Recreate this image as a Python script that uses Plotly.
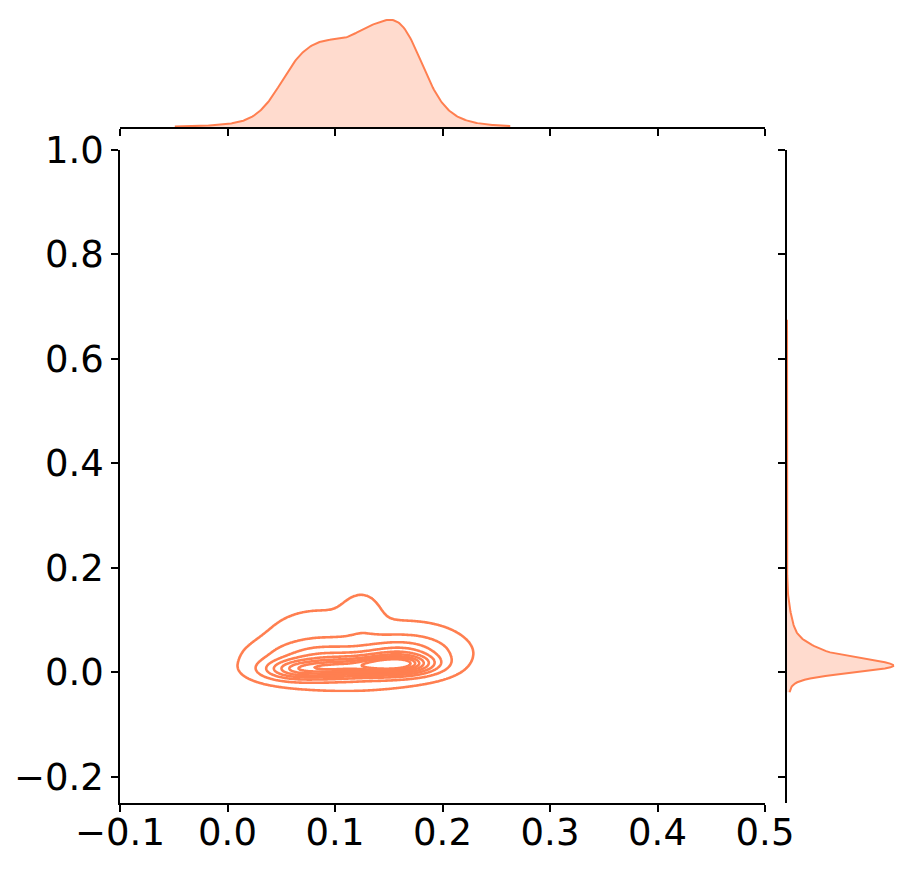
import numpy as np
import plotly.graph_objects as go

# ---- data: mixture components describing the bivariate density ----
comp_x  = [0.065, 0.100, 0.138, 0.165, 0.090, 0.160, 0.085, 0.172, 0.125, 0.115, 0.120]
comp_y  = [0.006, 0.009, 0.013, 0.016, 0.030, 0.036, 0.070, 0.055, 0.108, 0.015, 0.300]
comp_sx = [0.019, 0.020, 0.019, 0.018, 0.030, 0.025, 0.035, 0.032, 0.012, 0.060, 0.080]
comp_sy = [0.012, 0.012, 0.012, 0.012, 0.018, 0.018, 0.040, 0.030, 0.030, 0.035, 0.200]
comp_w  = [0.10, 0.12, 0.13, 0.13, 0.10, 0.10, 0.06, 0.048, 0.016, 0.12, 0.015]

x_support = [-0.049, 0.263]
y_support = [-0.038, 0.675]
x_ticks = [-0.1, 0.0, 0.1, 0.2, 0.3, 0.4, 0.5]
y_ticks = [-0.2, 0.0, 0.2, 0.4, 0.6, 0.8, 1.0]
x_labels = ["\u22120.1", "0.0", "0.1", "0.2", "0.3", "0.4", "0.5"]
y_labels = ["\u22120.2", "0.0", "0.2", "0.4", "0.6", "0.8", "1.0"]
levels = np.linspace(0.05, 1, 10)

LINE = "rgb(255,127,80)"
FILL = "rgba(255,127,80,0.28)"
FONT = dict(family="DejaVu Sans", size=37, color="black")

gx = np.linspace(x_support[0], x_support[1], 300)
gy = np.linspace(y_support[0], y_support[1], 300)
X, Y = np.meshgrid(gx, gy)

def g(v, m, s):
    return np.exp(-0.5 * ((v - m) / s) ** 2) / (s * np.sqrt(2 * np.pi))

Z = np.zeros_like(X)
for mx, my, sx, sy, w in zip(comp_x, comp_y, comp_sx, comp_sy, comp_w):
    Z += w * g(X, mx, sx) * g(Y, my, sy)

# iso-proportion transform (levels = fraction of mass below the density)
vals = Z.ravel()
order = np.argsort(vals)
cum = np.cumsum(vals[order]) / vals.sum()
T = np.empty_like(vals)
T[order] = cum
T = T.reshape(Z.shape)

mx_d = np.zeros_like(gx)
for mx, sx, w in zip(comp_x, comp_sx, comp_w):
    mx_d += w * g(gx, mx, sx)
my_d = np.zeros_like(gy)
for my, sy, w in zip(comp_y, comp_sy, comp_w):
    my_d += w * g(gy, my, sy)

fig = go.Figure()
fig.add_trace(go.Contour(
    x=gx, y=gy, z=T, xaxis="x", yaxis="y",
    contours=dict(start=levels[0], end=levels[-2] + 1e-6, size=levels[1] - levels[0], coloring="lines"),
    colorscale=[[0, LINE], [1, LINE]], showscale=False, line=dict(width=2.6),
    hoverinfo="skip",
))
fig.add_trace(go.Scatter(x=gx, y=mx_d, xaxis="x2", yaxis="y2", mode="lines",
                         line=dict(color=LINE, width=2), fill="tozeroy", fillcolor=FILL))
fig.add_trace(go.Scatter(x=my_d, y=gy, xaxis="x3", yaxis="y3", mode="lines",
                         line=dict(color=LINE, width=2), fill="tozerox", fillcolor=FILL))

W, H = 909, 873
L, R = 120, 765
T0, B0 = 150, 803
xd = [L / W, R / W]
yd = [1 - B0 / H, 1 - T0 / H]
axcommon = dict(showgrid=False, zeroline=False, showline=True, linecolor="black", linewidth=1.6,
                ticks="outside", ticklen=7, tickwidth=1.6, tickcolor="black", automargin=False)

fig.update_layout(
    width=W, height=H, margin=dict(l=0, r=0, t=0, b=0),
    paper_bgcolor="white", plot_bgcolor="white", showlegend=False,
    xaxis=dict(domain=xd, range=[-0.1, 0.5], anchor="y", tickvals=x_ticks, showticklabels=False,
               **axcommon),
    # label-only copy of the x axis (no tick marks), so labels sit closer to the spine
    xaxis4=dict(domain=xd, range=[-0.1, 0.5], anchor="y", overlaying="x", side="bottom",
                tickvals=x_ticks, ticktext=x_labels, tickfont=FONT, ticks="", showline=False,
                showgrid=False, zeroline=False, automargin=False, ticklabelstandoff=4),
    yaxis=dict(domain=yd, range=[-0.25, 1.0], anchor="x", tickvals=y_ticks, ticktext=y_labels,
               tickfont=FONT, **axcommon),
    xaxis2=dict(domain=xd, range=[-0.1, 0.5], anchor="y2", tickvals=x_ticks, showticklabels=False,
                **axcommon),
    yaxis2=dict(domain=[1 - 127 / H, 1 - 14.4 / H], range=[0, 1.05 * mx_d.max()], anchor="x2",
                visible=False, automargin=False),
    xaxis3=dict(domain=[787 / W, 898.5 / W], range=[0, 1.05 * my_d.max()], anchor="y3",
                visible=False, automargin=False),
    yaxis3=dict(domain=yd, range=[-0.25, 1.0], anchor="x3", tickvals=y_ticks, showticklabels=False,
                **axcommon),
)
# invisible anchor trace so the label axis is drawn
fig.add_trace(go.Scatter(x=[-0.1, 0.5], y=[None, None], xaxis="x4", yaxis="y", mode="markers",
                         showlegend=False, hoverinfo="skip"))
fig.write_html("out.html")
